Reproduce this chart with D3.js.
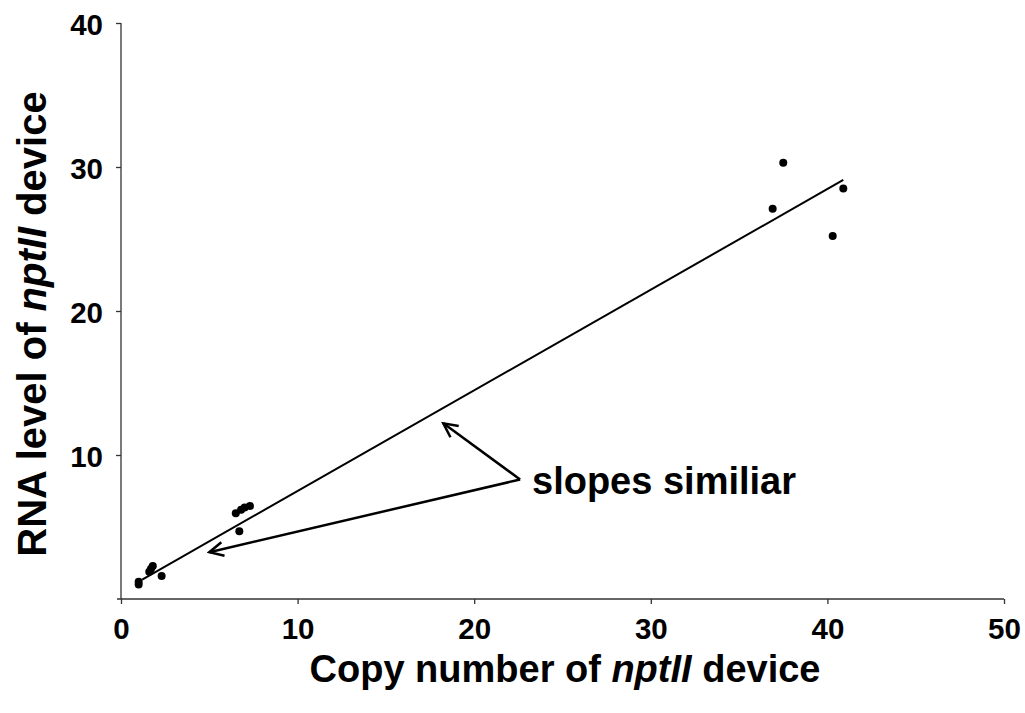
<!DOCTYPE html>
<html>
<head>
<meta charset="utf-8">
<script src="https://cdn.jsdelivr.net/npm/d3@7"></script>
<style>
  html, body { margin: 0; padding: 0; background: #fff; }
  svg { display: block; }
  text { font-family: Arial, "Liberation Sans", sans-serif; font-weight: bold; fill: #000; }
</style>
</head>
<body>
<svg id="chart" width="1025" height="713"></svg>
<script>
// ---- data ----
const copyNumber = [1.0, 1.0, 1.6, 1.7, 1.8, 2.3, 6.5, 6.8, 7.0, 7.3, 6.7, 36.9, 37.5, 40.3, 40.9];
const rnaLevel   = [1.0, 1.2, 1.9, 2.1, 2.3, 1.6, 5.95, 6.2, 6.35, 6.45, 4.7, 27.1, 30.3, 25.2, 28.5];
const fitX = [1.2, 40.9];
const fitY = [1.35, 29.1];
const xTicks = [0, 10, 20, 30, 40, 50];
const yTicks = [10, 20, 30, 40];
const annotationText = "slopes similiar";
const arrowFrom = [22.6, 8.3];
const arrowTips = [[18.25, 12.2], [5.0, 3.25]];

// ---- layout ----
const svg = d3.select("#chart");
const x = d3.scaleLinear().domain([0, 50]).range([121, 1004]);
const y = d3.scaleLinear().domain([0, 40]).range([599, 23]);

// axes
const xAxis = svg.append("g").attr("transform", "translate(0,599)")
  .call(d3.axisBottom(x).tickValues(xTicks).tickSize(5).tickPadding(14).tickSizeOuter(0));
const yAxis = svg.append("g").attr("transform", "translate(121,0)")
  .call(d3.axisLeft(y).tickValues(yTicks).tickSize(5).tickPadding(13).tickSizeOuter(0));
[xAxis, yAxis].forEach(g => {
  g.select(".domain").attr("stroke", "#333").attr("stroke-width", 1.3);
  g.selectAll(".tick line").attr("stroke", "#333").attr("stroke-width", 1.3);
  g.selectAll(".tick text").style("font-size", "29.5px").style("font-family", "Arial, 'Liberation Sans', sans-serif").style("font-weight", "bold").attr("fill", "#000");
});
xAxis.select(".domain").attr("d", `M${x(0)-4},0H${x(50)}`);
yAxis.select(".domain").attr("d", `M0,${y(40)}V${y(0)}`);
yAxis.selectAll(".tick text").attr("dy", "0.38em");
xAxis.selectAll(".tick text").attr("y", 40).attr("dy", 0);

// fit line
svg.append("line")
  .attr("x1", x(fitX[0])).attr("y1", y(fitY[0]))
  .attr("x2", x(fitX[1])).attr("y2", y(fitY[1]))
  .attr("stroke", "#000").attr("stroke-width", 2);

// points
svg.append("g").selectAll("circle")
  .data(copyNumber.map((d, i) => [d, rnaLevel[i]]))
  .join("circle")
  .attr("cx", d => x(d[0])).attr("cy", d => y(d[1]))
  .attr("r", 4).attr("fill", "#000");

// arrows
const defs = svg.append("defs");
defs.append("marker").attr("id", "arrowhead")
  .attr("viewBox", "0 0 20 20").attr("refX", 18).attr("refY", 10)
  .attr("markerWidth", 20).attr("markerHeight", 20)
  .attr("markerUnits", "userSpaceOnUse")
  .attr("orient", "auto")
  .append("path").attr("d", "M4,3 L18,10 L4,17")
  .attr("fill", "none").attr("stroke", "#000").attr("stroke-width", 2.5);

arrowTips.forEach(t => {
  svg.append("line")
    .attr("x1", x(arrowFrom[0])).attr("y1", y(arrowFrom[1]))
    .attr("x2", x(t[0])).attr("y2", y(t[1]))
    .attr("stroke", "#000").attr("stroke-width", 2.5)
    .attr("marker-end", "url(#arrowhead)");
});

svg.append("text").attr("x", 532).attr("y", 494)
  .style("font-size", "38px").text(annotationText);

// axis titles
const xt = svg.append("text").attr("x", 565).attr("y", 682)
  .attr("text-anchor", "middle").style("font-size", "38px");
xt.append("tspan").text("Copy number of ");
xt.append("tspan").style("font-style", "italic").text("nptII");
xt.append("tspan").text(" device");

const yt = svg.append("text")
  .attr("transform", `translate(46,${(88+560)/2}) rotate(-90)`)
  .attr("text-anchor", "middle").style("font-size", "40px");
yt.append("tspan").text("RNA level of ");
yt.append("tspan").style("font-style", "italic").text("nptII");
yt.append("tspan").text(" device");
</script>
</body>
</html>
